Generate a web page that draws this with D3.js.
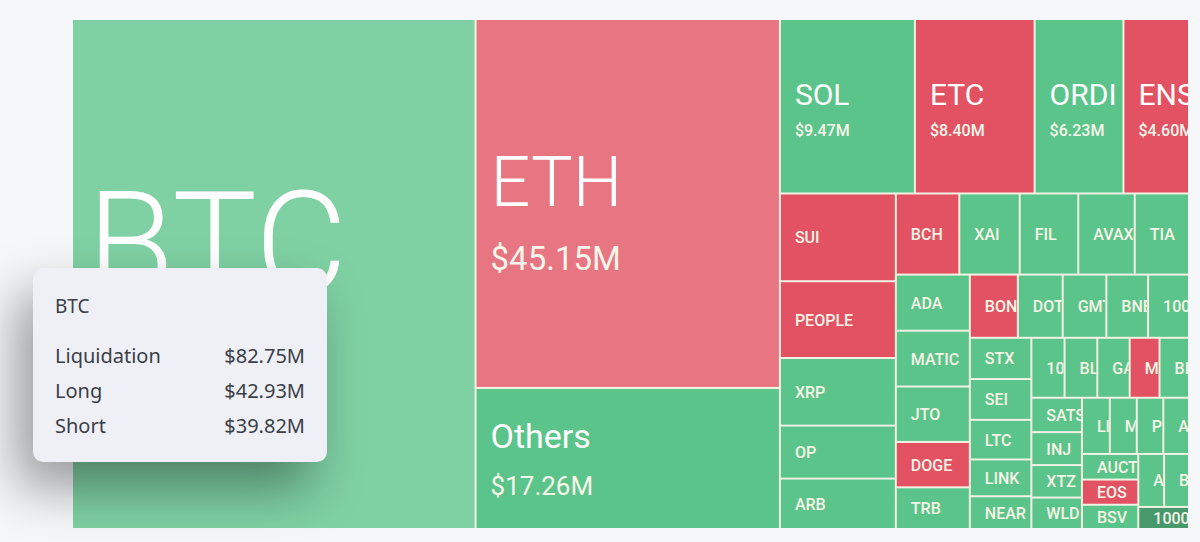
<!DOCTYPE html>
<html>
<head>
<meta charset="utf-8">
<script src="https://cdn.jsdelivr.net/npm/d3@7"></script>
<style>
  html, body { margin: 0; padding: 0; background: #f6f7f9; }
  #chart { position: relative; width: 1200px; height: 542px; overflow: hidden; }
  .tip {
    position: absolute; left: 33px; top: 268px; width: 294px; height: 194px;
    box-sizing: border-box; padding: 25px 22px 0 22px;
    background: #eef0f6; border-radius: 10px;
    box-shadow: -16px 26px 52px rgba(0,0,0,0.38);
    font-family: "Noto Sans", "Open Sans", sans-serif; font-size: 20px; color: #3b3e48;
  }
  .tip .ttl { margin-bottom: 18.5px; line-height: 26px; font-size: 19px; }
  .tip .row { display: flex; justify-content: space-between; line-height: 35px; }
</style>
</head>
<body>
<div id="chart"></div>
<script>
// coins, liquidation totals ($M) and which side dominated
var coins = ["BTC","ETH","Others","SOL","ETC","ORDI","ENS",
  "SUI","PEOPLE","XRP","OP","ARB",
  "BCH","XAI","FIL","AVAX","TIA",
  "ADA","MATIC","JTO","DOGE","TRB",
  "BONK","DOT","GMT","BNB","1000PEPE",
  "STX","SEI","LTC","LINK","NEAR",
  "1000SHIB","BLUR","GALA","MANTA","BIGTIME",
  "SATS","INJ","XTZ","WLD",
  "LINA","MEME","PYTH","APT",
  "AUCTION","EOS","BSV",
  "ATOM","BLZ","1000LUNC"];
var liquidation = [82.75,45.15,17.26,9.47,8.40,6.23,4.60,
  4.09,3.58,3.15,2.47,2.35,
  2.07,1.97,1.91,1.84,1.77,
  1.67,1.66,1.65,1.35,1.24,
  1.22,1.14,1.11,1.06,1.04,
  1.02,1.01,0.98,0.91,0.81,
  0.80,0.79,0.78,0.72,0.71,
  0.70,0.67,0.66,0.64,
  0.63,0.61,0.60,0.58,
  0.58,0.57,0.55,
  0.55,0.53,0.45];
var shortSide = ["ETH","ETC","ENS","SUI","PEOPLE","BCH","DOGE","BONK","MANTA","EOS"];

// tooltip rows (hovered coin)
var tipCoin = "BTC";
var tipLabels = ["Liquidation","Long","Short"];
var tipValues = [82.75,42.93,39.82];

var W = 1200, H = 542;
var margin = {top: 20, right: 12, bottom: 14, left: 73},
    width = W - margin.left - margin.right,
    height = H - margin.top - margin.bottom;

var fmt = function(v) { return "$" + d3.format(".2f")(v) + "M"; };

var data = coins.map(function(c, i) {
  return {name: c, value: liquidation[i], side: shortSide.indexOf(c) >= 0 ? "short" : "long"};
});

var root = d3.hierarchy({children: data})
  .sum(function(d) { return d.value || 0; })
  .sort(function(a, b) { return b.value - a.value; });

d3.treemap()
  .tile(d3.treemapSquarify)
  .size([width, height])
  .paddingInner(2)(root);

var baseColor = {long: "#5bc48a", short: "#e25263"};
// big coins are drawn a bit lighter, the smallest one darker
var tint = d3.scaleLinear().domain([0.45, 0.5, 20, 45, 83]).range([-0.22, 0, 0, 0.2, 0.22]).clamp(true);
function fill(d) {
  var t = tint(d.value), c = baseColor[d.side];
  return t >= 0 ? d3.interpolateRgb(c, "#ffffff")(t) : d3.interpolateRgb(c, "#000000")(-t);
}

// label style by size of the coin
function tier(v) {
  if (v >= 60) return {fs: 142, fw: 300, ndy: 19, vs: 50, vdy: 100};
  if (v >= 30) return {fs: 70, fw: 300, ndy: 3, vs: 33, vdy: 67};
  if (v >= 12) return {fs: 34, fw: 400, ndy: -10, vs: 26, vdy: 37};
  if (v >= 4.5) return {fs: 30, fw: 400, ndy: -1, vs: 16, vdy: 30};
  return {fs: 16, fw: 500, ndy: 6, vs: 0, vdy: 0};
}

var svg = d3.select("#chart").append("svg")
  .attr("width", W)
  .attr("height", H)
  .append("g")
  .attr("transform", "translate(" + margin.left + "," + margin.top + ")");

svg.append("rect")
  .attr("width", width)
  .attr("height", height)
  .attr("fill", "#f2f1e2");

var cell = svg.selectAll(".cell")
  .data(root.leaves())
  .enter().append("g")
  .attr("class", "cell")
  .attr("transform", function(d) { return "translate(" + d.x0 + "," + d.y0 + ")"; });

cell.append("clipPath")
  .attr("id", function(d, i) { return "clip" + i; })
  .append("rect")
  .attr("width", function(d) { return d.x1 - d.x0; })
  .attr("height", function(d) { return d.y1 - d.y0; });

cell.append("rect")
  .attr("width", function(d) { return d.x1 - d.x0; })
  .attr("height", function(d) { return d.y1 - d.y0; })
  .attr("fill", function(d) { return fill(d.data); });

var lab = cell.append("g")
  .attr("clip-path", function(d, i) { return "url(#clip" + i + ")"; })
  .style("font-family", "Roboto, 'Noto Sans', sans-serif");

lab.append("text")
  .attr("x", 14)
  .attr("y", function(d) { return (d.y1 - d.y0) / 2 + tier(d.value).ndy; })
  .attr("font-size", function(d) { return tier(d.value).fs; })
  .attr("font-weight", function(d) { return tier(d.value).fw; })
  .attr("fill", function(d) { return d.value >= 4.5 ? "#ffffff" : "#f6f4e6"; })
  .text(function(d) { return d.data.name; });

lab.filter(function(d) { return d.value >= 4.5; })
  .append("text")
  .attr("x", 14)
  .attr("y", function(d) { return (d.y1 - d.y0) / 2 + tier(d.value).vdy; })
  .attr("font-size", function(d) { return tier(d.value).vs; })
  .attr("font-weight", function(d) { return d.value >= 12 ? 400 : 500; })
  .attr("fill", "#f8f6ea")
  .text(function(d) { return fmt(d.value); });

// tooltip for the hovered coin
var tip = d3.select("#chart").append("div").attr("class", "tip");
tip.append("div").attr("class", "ttl").text(tipCoin);
tipLabels.forEach(function(l, i) {
  var r = tip.append("div").attr("class", "row");
  r.append("span").text(l);
  r.append("span").text(fmt(tipValues[i]));
});
</script>
</body>
</html>
